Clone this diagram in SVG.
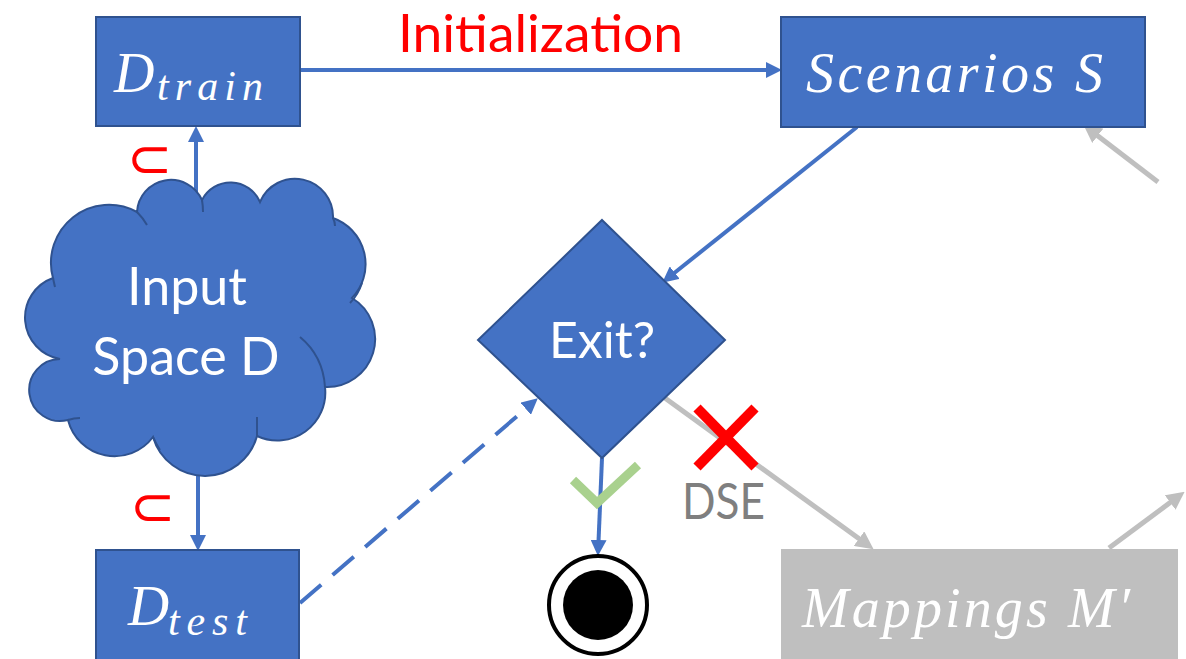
<svg xmlns="http://www.w3.org/2000/svg" width="1186" height="659" viewBox="0 0 1186 659">
  <defs>
    <marker id="head-blue" markerUnits="userSpaceOnUse" markerWidth="16" markerHeight="16" refX="9" refY="8" orient="auto">
      <path d="M0,0 L16,8 L0,16 z" fill="#4472C4"/>
    </marker>
    <marker id="head-gray" markerUnits="userSpaceOnUse" markerWidth="18" markerHeight="18" refX="10" refY="9" orient="auto">
      <path d="M0,0 L18,9 L0,18 z" fill="#BFBFBF"/>
    </marker>
    <style>
      .shape { fill: #4472C4; stroke: #2F528F; stroke-width: 2; }
      .math { font-family: "Liberation Serif", "DejaVu Serif", serif; font-style: italic; fill: #FFFFFF; }
      .label { font-family: Lato, "Liberation Sans", sans-serif; fill: #FFFFFF; }
      .sub { font-family: "DejaVu Sans", sans-serif; fill: #FF0000; }
      .flow { fill: none; stroke: #4472C4; stroke-width: 4; marker-end: url(#head-blue); }
      .dse { fill: none; stroke: #BFBFBF; stroke-width: 5; marker-end: url(#head-gray); }
    </style>
  </defs>
  <rect width="1186" height="659" fill="#FFFFFF"/>

  <!-- connectors -->
  <g id="connectors">
    <line class="flow" x1="300" y1="70" x2="775" y2="70"/>
    <line class="flow" x1="196" y1="200" x2="196" y2="133"/>
    <line class="flow" x1="198" y1="475" x2="198" y2="544"/>
    <line class="flow" x1="857" y1="127" x2="667.7" y2="278.3"/>
    <line class="flow" x1="300" y1="603" x2="532.5" y2="402.9" stroke-dasharray="28 15"/>
    <line class="flow" x1="602" y1="458" x2="598.2" y2="549"/>
    <line class="dse" x1="1158" y1="182" x2="1089.8" y2="129.7"/>
    <line class="dse" x1="658" y1="393" x2="867.1" y2="544.5"/>
    <line class="dse" x1="1109" y1="548" x2="1178.2" y2="496.6"/>
  </g>

  <!-- edge labels -->
  <g id="labels">
    <text x="398" y="52" font-family="Lato, 'Liberation Sans', sans-serif" font-size="53" fill="#FF0000" textLength="285" lengthAdjust="spacingAndGlyphs">Initialization</text>
    <text class="sub" x="127" y="177" font-size="54">⊂</text>
    <text class="sub" x="130" y="525" font-size="54">⊂</text>
    <polyline points="573,480 597,503 638,465" fill="none" stroke="#A9D18E" stroke-width="9"/>
    <g id="cross" stroke="#FF0000" stroke-width="10">
      <line x1="697" y1="408" x2="755" y2="467"/>
      <line x1="755" y1="408" x2="697" y2="467"/>
    </g>
    <text x="682" y="519" font-family="Lato, 'Liberation Sans', sans-serif" font-size="50" fill="#7F7F7F" textLength="83" lengthAdjust="spacingAndGlyphs">DSE</text>
  </g>

  <!-- training set -->
  <g id="d-train">
    <rect class="shape" x="96" y="17" width="204" height="109"/>
    <text class="math" x="114" y="92" font-size="56">D</text>
    <text class="math" x="157" y="100" font-size="42" textLength="106" lengthAdjust="spacing">train</text>
  </g>

  <!-- scenarios -->
  <g id="scenarios">
    <rect class="shape" x="781" y="17" width="364" height="110"/>
    <text class="math" x="806" y="92" font-size="56" textLength="297" lengthAdjust="spacing">Scenarios S</text>
  </g>

  <!-- input space cloud -->
  <g id="input-space">
    <path class="shape" d="M60,359 A42,42 0 0 1 53,278 A58,58 0 0 1 137,212 A34,34 0 0 1 202,200 A32,32 0 0 1 260,202 A38,38 0 0 1 333,218 A49,49 0 0 1 352,298 A48,48 0 0 1 325,387 A48,48 0 0 1 257,436 A54,54 0 0 1 153,437 A48,48 0 0 1 68,420 A31,31 0 1 1 60,359 Z"/>
    <path d="M137,212 Q143,218 147,225 M202,200 Q203,206 203,212 M333,218 Q335,222 335,226 M362,283 Q358,295 350,303 M300,337 Q323,356 325,387 M257,417 L257,436 M153,437 Q156,444 160,450 M68,420 Q74,418 80,418 M53,278 Q54,283 55,287" fill="none" stroke="#2F528F" stroke-width="2"/>
    <text class="label" x="187" y="305" font-size="52" text-anchor="middle">Input</text>
    <text class="label" x="186" y="375" font-size="52" text-anchor="middle">Space D</text>
  </g>

  <!-- test set -->
  <g id="d-test">
    <rect class="shape" x="96" y="550" width="203" height="115"/>
    <text class="math" x="128" y="625" font-size="57">D</text>
    <text class="math" x="168" y="635" font-size="42" textLength="79" lengthAdjust="spacing">test</text>
  </g>

  <!-- decision -->
  <g id="exit">
    <polygon class="shape" points="602,220 725,340 602,458 478,340"/>
    <text class="label" x="602" y="358" font-size="50" text-anchor="middle">Exit?</text>
  </g>

  <!-- final state -->
  <g id="end">
    <circle cx="598" cy="605" r="49" fill="#FFFFFF" stroke="#000000" stroke-width="4"/>
    <circle cx="598" cy="605" r="35" fill="#000000"/>
  </g>

  <!-- mappings -->
  <g id="mappings">
    <rect x="781" y="549" width="397" height="115" fill="#BFBFBF"/>
    <text class="math" x="802" y="627" font-size="56" textLength="328" lengthAdjust="spacing">Mappings M′</text>
  </g>
</svg>
